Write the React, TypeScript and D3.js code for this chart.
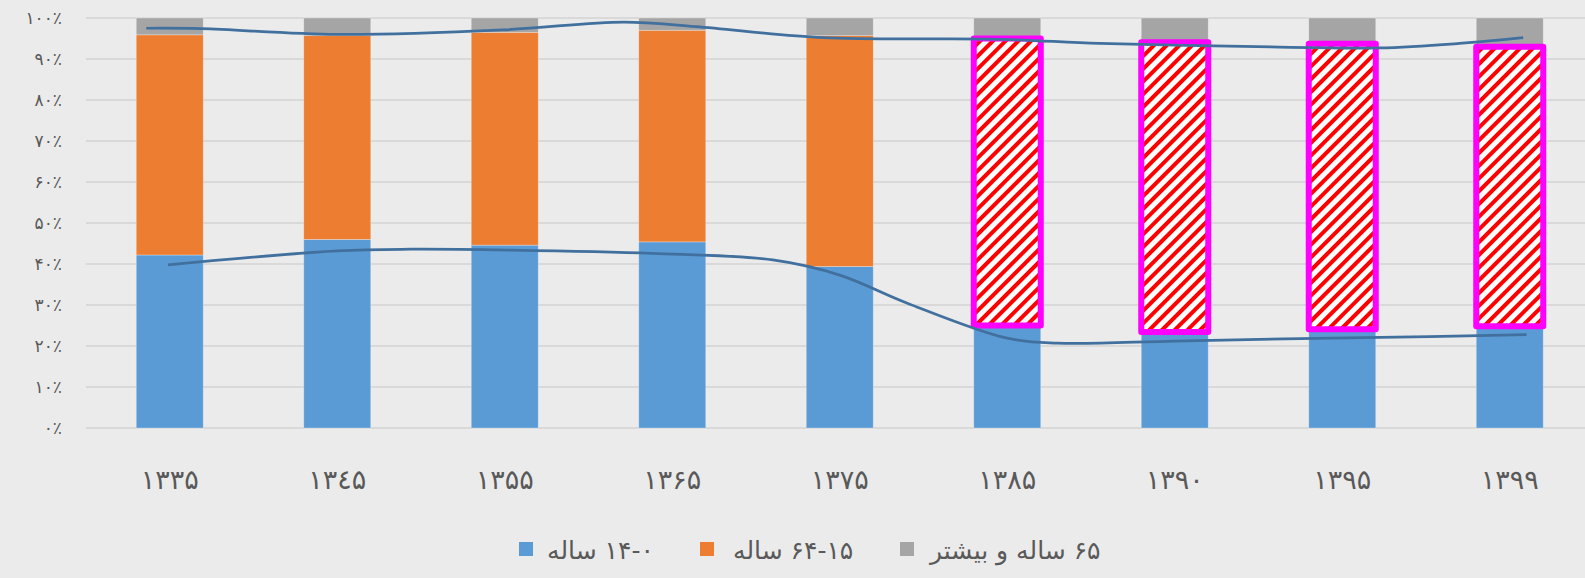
import * as d3 from 'd3';

// census years (x axis)
const categories = ['۱۳۳۵', '۱۳٤۵', '۱۳۵۵', '۱۳۶۵', '۱۳۷۵', '۱۳۸۵', '۱۳۹۰', '۱۳۹۵', '۱۳۹۹'];
// share of population, percent
const youngShare = [42.2, 46.0, 44.6, 45.4, 39.4, 25.0, 23.4, 24.1, 24.8];
const workingShare = [53.7, 49.7, 51.9, 51.6, 56.3, 70.0, 70.7, 69.6, 68.2];
const oldShare = [4.1, 4.3, 3.5, 3.0, 4.3, 5.0, 5.9, 6.3, 7.0];
// years whose middle segment is highlighted
const highlighted = [false, false, false, false, false, true, true, true, true];

const seriesNames = ['۱۴-۰ ساله', '۶۴-۱۵ ساله', '۶۵ ساله و بیشتر'];
const seriesColors = ['#5b9bd5', '#ed7d31', '#a5a5a5'];

const yTicks = [0, 10, 20, 30, 40, 50, 60, 70, 80, 90, 100];
const persianDigits = ['۰', '۱', '۲', '۳', '۴', '۵', '۶', '۷', '۸', '۹'];

// hand drawn trend lines: position in category index, value in percent
const upperTrendPos = [-0.14, 0.19, 1.0, 1.99, 2.71, 3.14, 3.9, 4.96, 5.55, 6.49, 7.22, 7.7, 8.08];
const upperTrendVal = [97.5, 97.4, 96.0, 97.1, 99.0, 97.9, 95.2, 94.8, 93.8, 93.0, 92.7, 93.8, 95.2];
const lowerTrendPos = [-0.01, 1.0, 1.44, 2.02, 2.88, 3.6, 4.0, 4.4, 5.0, 5.3, 6.0, 6.75, 7.52, 8.1];
const lowerTrendVal = [39.8, 43.2, 43.6, 43.4, 42.6, 41.0, 37.3, 30.5, 21.9, 20.7, 21.2, 21.8, 22.3, 22.8];

const toPersian = (n: number) =>
  String(n)
    .split('')
    .map(c => persianDigits[+c])
    .join('');

const FONT = '"DejaVu Sans", sans-serif';

export default function App() {
  const width = 1585;
  const height = 578;
  const left = 86;
  const top = 18;
  const bottom = 428;

  const x = d3
    .scaleBand<string>()
    .domain(categories)
    .range([left, left + 167.5 * categories.length]);
  const bw = x.bandwidth() * 0.4;

  const y = d3.scaleLinear().domain([0, 100]).range([bottom, top]);

  const table = categories.map((c, i) => ({
    year: c,
    young: youngShare[i],
    working: workingShare[i],
    old: oldShare[i],
  }));
  const stack = d3.stack<any>().keys(['young', 'working', 'old'])(table);

  const trendX = d3
    .scaleLinear()
    .domain([0, categories.length - 1])
    .range([x(categories[0])! + x.bandwidth() / 2, x(categories[categories.length - 1])! + x.bandwidth() / 2]);

  const line = d3
    .line<[number, number]>()
    .x(d => trendX(d[0]))
    .y(d => y(d[1]))
    .curve(d3.curveCatmullRom.alpha(0.5));

  const upperPath = line(upperTrendPos.map((p, i) => [p, upperTrendVal[i]]));
  const lowerPath = line(lowerTrendPos.map((p, i) => [p, lowerTrendVal[i]]));

  const barX = (c: string) => x(c)! + (x.bandwidth() - bw) / 2;

  const legendItems = [
    { sx: 519, tx: 547 },
    { sx: 700, tx: 733 },
    { sx: 900, tx: 930 },
  ];

  return (
    <svg
      width={width}
      height={height}
      style={{ position: 'absolute', left: 0, top: 0, background: '#ebebeb' }}
    >
      <defs>
        <pattern
          id="hatch"
          width={9}
          height={9}
          patternUnits="userSpaceOnUse"
          patternTransform="rotate(45)"
        >
          <rect width={9} height={9} fill="#ffffff" />
          <rect width={4} height={9} fill="#ff0000" />
        </pattern>
      </defs>
      <rect width={width} height={height} fill="#ebebeb" />

      {/* gridlines */}
      {yTicks.map(t => (
        <line
          key={t}
          x1={left}
          x2={width}
          y1={y(t)}
          y2={y(t)}
          stroke="#d9d9d9"
          strokeWidth={2}
        />
      ))}

      {/* y labels */}
      {yTicks.map(t => (
        <text
          key={'l' + t}
          x={62}
          y={y(t)}
          dy="0.35em"
          textAnchor="end"
          fontFamily={FONT}
          fontSize={17}
          fill="#595959"
        >
          {toPersian(t) + '٪'}
        </text>
      ))}

      {/* plain bars */}
      {stack.map((s, k) =>
        s.map((d, i) =>
          k === 1 && highlighted[i] ? null : (
            <rect
              key={k + '-' + i}
              x={barX(categories[i])}
              width={bw}
              y={y(d[1])}
              height={y(d[0]) - y(d[1])}
              fill={seriesColors[k]}
              stroke="rgba(255,255,255,0.35)"
              strokeWidth={0.8}
            />
          )
        )
      )}

      {/* highlighted bars */}
      {stack[1].map((d, i) =>
        highlighted[i] ? (
          <rect
            key={'h' + i}
            x={barX(categories[i])}
            width={bw}
            y={y(d[1])}
            height={y(d[0]) - y(d[1])}
            fill="url(#hatch)"
            stroke="#ff00ff"
            strokeWidth={6}
            strokeLinejoin="round"
          />
        ) : null
      )}

      {/* trend lines */}
      <path d={upperPath ?? ''} fill="none" stroke="#41709e" strokeWidth={2.75} />
      <path d={lowerPath ?? ''} fill="none" stroke="#41709e" strokeWidth={2.75} />

      {/* x labels */}
      {categories.map(c => (
        <text
          key={'x' + c}
          x={x(c)! + x.bandwidth() / 2}
          y={480}
          dy="0.35em"
          textAnchor="middle"
          fontFamily={FONT}
          fontSize={27}
          fill="#595959"
        >
          {c}
        </text>
      ))}

      {/* legend */}
      {seriesNames.map((name, k) => (
        <g key={'lg' + k}>
          <rect x={legendItems[k].sx} y={542} width={14} height={14} fill={seriesColors[k]} />
          <text
            x={legendItems[k].tx}
            y={550}
            dy="0.35em"
            direction="rtl"
            textAnchor="end"
            fontFamily={FONT}
            fontSize={25}
            fill="#595959"
          >
            {name}
          </text>
        </g>
      ))}
    </svg>
  );
}
